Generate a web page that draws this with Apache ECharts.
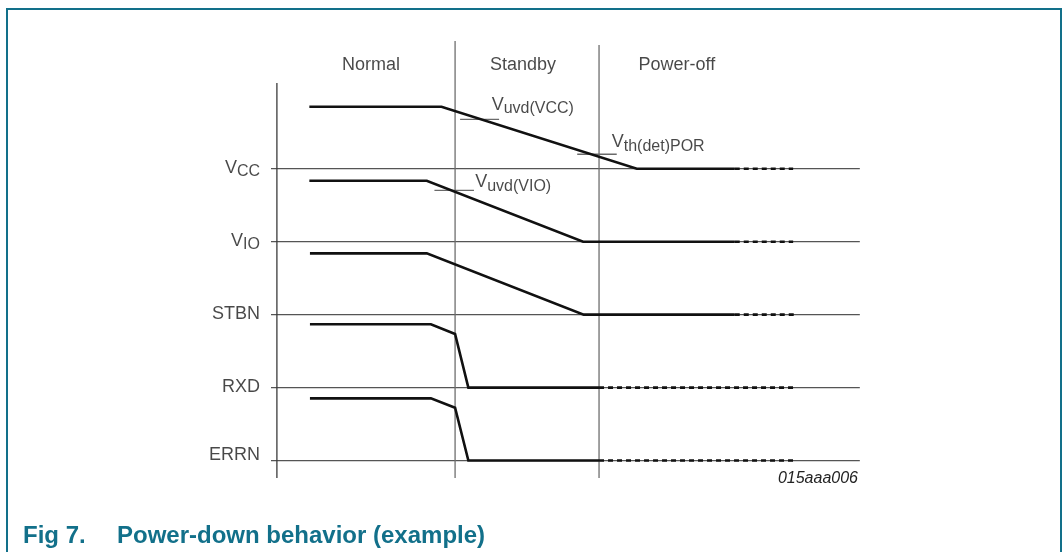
<!DOCTYPE html>
<html>
<head>
<meta charset="utf-8">
<script src="https://cdn.jsdelivr.net/npm/echarts@6/dist/echarts.min.js"></script>
<style>
  html, body { margin: 0; padding: 0; background: #fff; }
  #main { width: 1063px; height: 552px; }
</style>
</head>
<body>
<div id="main"></div>
<script>
// signal rows, bottom to top (level 0..4)
var rowNames = ['ERRN', 'RXD', 'STBN', 'VIO', 'VCC'];
var rowLevels = [0, 1, 2, 3, 4];
var baselineX = [-1, 98.8];

// phases along the time axis
var phaseNames = ['Normal', 'Standby', 'Power-off'];
var phaseCenters = [15.95, 41.7, 67.8];
var phaseLabelY = 5.42;
var boundaryX = [0, 30.2, 54.6];
var boundaryTop = [5.175, 5.75, 5.695];
var boundaryBottom = -0.24;

// signal traces [time, level]
var vccSolid = [[5.5, 4.85], [27.9, 4.85], [61.0, 4], [77.6, 4]];
var vccDashed = [[77.6, 4], [87.5, 4]];
var vioSolid = [[5.5, 3.836], [25.4, 3.836], [51.9, 3], [77.6, 3]];
var vioDashed = [[77.6, 3], [87.5, 3]];
var stbnSolid = [[5.6, 2.84], [25.4, 2.84], [52.0, 2], [77.6, 2]];
var stbnDashed = [[77.6, 2], [87.6, 2]];
var rxdSolid = [[5.6, 1.868], [26.1, 1.868], [30.2, 1.735], [32.45, 1], [54.6, 1]];
var rxdDashed = [[54.6, 1], [88.1, 1]];
var errnSolid = [[5.6, 0.853], [26.1, 0.853], [30.2, 0.725], [32.45, 0], [54.6, 0]];
var errnDashed = [[54.6, 0], [88.1, 0]];

// threshold marks: [x0, x1, level], label anchor [x, level]
var thresholdNames = ['uvd(VCC)', 'uvd(VIO)', 'th(det)POR'];
var thresholdTicks = [[31.05, 37.66, 4.677], [26.7, 33.4, 3.704], [50.9, 57.6, 4.198]];
var thresholdLabelPos = [[36.4, 4.873], [33.6, 3.811], [56.75, 4.36]];

var TEAL = '#12708a';
var FONT = '"Liberation Sans", Arial, Helvetica, sans-serif';

var chart = echarts.init(document.getElementById('main'));

var series = [];

function rowLabel(name) {
	if (name === 'VIO') return '{v|V}{s|IO}';
	if (name === 'VCC') return '{v|V}{s|CC}';
	return '{v|' + name + '}';
}
var richSub = {
	v: { fontSize: 18, fontFamily: FONT, color: '#1a1a1a', lineHeight: 20 },
	s: { fontSize: 16, fontFamily: FONT, color: '#1a1a1a', lineHeight: 18, padding: [8, 0, 0, 0] }
};

// baselines
rowLevels.forEach(function (lv) {
	series.push({
		type: 'line', silent: true, symbol: 'none', z: 1,
		lineStyle: { color: '#555', width: 1.2 },
		data: [[baselineX[0], lv], [baselineX[1], lv]]
	});
});

// row names on the left
series.push({
	type: 'scatter', silent: true, symbolSize: 0, z: 6,
	label: {
		show: true, position: 'left', distance: 11,
		formatter: function (p) { return rowLabel(rowNames[p.dataIndex]); },
		rich: richSub
	},
	data: rowLevels.map(function (lv, i) {
		return { value: [baselineX[0], lv], label: { offset: rowNames[i] === 'ERRN' ? [0, -6] : [0, -1] } };
	})
});

// phase boundaries and left axis
boundaryX.forEach(function (x, i) {
	series.push({
		type: 'line', silent: true, symbol: 'none', z: 1,
		lineStyle: { color: i === 0 ? '#3a3a3a' : '#6e6e6e', width: 1.3 },
		data: [[x, boundaryBottom], [x, boundaryTop[i]]]
	});
});

// threshold ticks
thresholdTicks.forEach(function (t) {
	series.push({
		type: 'line', silent: true, symbol: 'none', z: 2,
		lineStyle: { color: '#6a6a6a', width: 1.3 },
		data: [[t[0], t[2]], [t[1], t[2]]]
	});
});

// signals
var solids = [vccSolid, vioSolid, stbnSolid, rxdSolid, errnSolid];
var dashes = [vccDashed, vioDashed, stbnDashed, rxdDashed, errnDashed];
solids.forEach(function (d) {
	series.push({
		type: 'line', silent: true, symbol: 'none', z: 5,
		lineStyle: { color: '#111', width: 2.6, join: 'miter' },
		data: d
	});
});
dashes.forEach(function (d) {
	series.push({
		type: 'line', silent: true, symbol: 'none', z: 5,
		lineStyle: { color: '#111', width: 2.6, type: [5, 4] },
		data: d
	});
});

// phase headers
series.push({
	type: 'scatter', silent: true, symbolSize: 0, z: 6,
	label: {
		show: true, position: 'inside', color: '#1a1a1a',
		fontSize: 18, fontFamily: FONT,
		formatter: function (p) { return phaseNames[p.dataIndex]; }
	},
	data: phaseCenters.map(function (x) { return [x, phaseLabelY]; })
});

// threshold labels
series.push({
	type: 'scatter', silent: true, symbolSize: 0, z: 6,
	label: {
		show: true, position: 'right', distance: 0,
		formatter: function (p) { return '{v|V}{s|' + thresholdNames[p.dataIndex] + '}'; },
		rich: richSub
	},
	data: thresholdLabelPos
});

chart.setOption({
	animation: false,
	backgroundColor: '#fff',
	title: [{
		text: '{a|Fig 7.}{b|Power-down behavior (example)}',
		left: 23, top: 524, padding: 0,
		textStyle: {
			rich: {
				a: { fontSize: 24, fontWeight: 'bold', color: TEAL, fontFamily: FONT, width: 94 },
				b: { fontSize: 24, fontWeight: 'bold', color: TEAL, fontFamily: FONT }
			}
		}
	}, {
		text: '015aaa006',
		right: 205, top: 471, padding: 0,
		textStyle: { fontSize: 16, fontStyle: 'italic', fontWeight: 'normal', color: '#222', fontFamily: FONT }
	}],
	graphic: [{
		type: 'polyline', silent: true,
		shape: { points: [[7, 552], [7, 9], [1061, 9], [1061, 552]] },
		style: { stroke: TEAL, lineWidth: 2, fill: null }
	}],
	grid: { left: 271, width: 590, top: 22.8, height: 510.72 },
	xAxis: { type: 'value', min: -1, max: 99, show: false },
	yAxis: { type: 'value', min: -1, max: 6, show: false },
	series: series
});
</script>
</body>
</html>
